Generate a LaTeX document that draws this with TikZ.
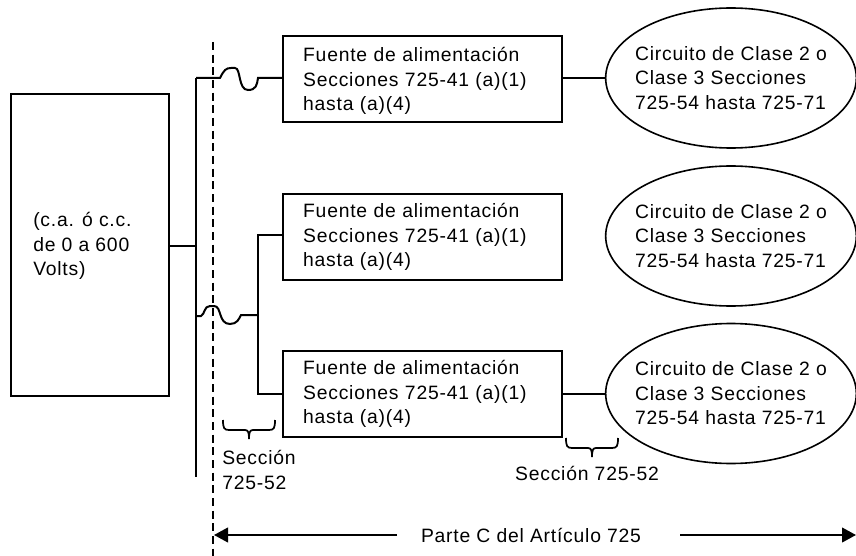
\documentclass[tikz,border=0pt]{standalone}
\usepackage{fontspec}
\setmainfont[LetterSpace=4]{Liberation Sans}
\usetikzlibrary{positioning, calc, shapes.geometric, arrows.meta}
\tikzset{
    Line/.style = {line width=1.5pt},
    Arrow/.style = {line width=1.5pt, -{Triangle[length=10.5pt, width=11pt]}},
    Node/.style = {
        draw, line width=1.7pt, minimum width=209pt, minimum height=64.5pt,
        inner sep=0pt, text width=179pt, align=left,
        font=\fontsize{14.5}{18.4}\selectfont
    },
    Oval/.style = {
        ellipse, draw, line width=1.2pt, minimum width=188pt, minimum height=105pt,
        inner xsep=-9pt, inner ysep=0pt, align=left, font=\fontsize{14.5}{18.4}\selectfont
    },
    Label/.style = {inner sep=0pt, align=left, font=\fontsize{14.5}{18.4}\selectfont},
    bracket/.pic = {
        \draw[line width=1.3pt] (-26,0) .. controls (-26,8) and (-25,10) .. (-20,10) -- (-4,10)
            .. controls (-1,10) and (0,12) .. (0,19) .. controls (0,12) and (1,10) .. (4,10)
            -- (20,10) .. controls (25,10) and (26,8) .. (26,0);
    }
}
\begin{document}
\begin{tikzpicture}[x=0.75pt, y=-0.75pt]
    \useasboundingbox (0,0) rectangle (856,556);
    \clip (0,0) rectangle (856,556);

    % source
    \node[Node, minimum width=118.5pt, minimum height=226.5pt, text width=89pt] (src) at (90,245) {};
    \node[Label, anchor=west] (srcT) at (33,246) {(c.a. ó c.c.\\de 0 a 600\\Volts)};

    % power supplies
    \node[Node] (fa1) at (422.5,79) {\rule{0pt}{14pt}Fuente de alimentación\\Secciones 725-41 (a)(1)\\hasta (a)(4)};
    \node[Node, below=52.5pt of fa1] (fa2) {Fuente de alimentación\\Secciones 725-41 (a)(1)\\hasta (a)(4)};
    \node[Node, below=51.5pt of fa2] (fa3) {Fuente de alimentación\\Secciones 725-41 (a)(1)\\hasta (a)(4)};

    % circuits
    \node[Oval] (c1) at (731,78) {Circuito de Clase 2 o\\Clase 3 Secciones\\725-54 hasta 725-71};
    \node[Oval] (c2) at (731,236) {Circuito de Clase 2 o\\Clase 3 Secciones\\725-54 hasta 725-71};
    \node[Oval] (c3) at (731,393.5) {Circuito de Clase 2 o\\Clase 3 Secciones\\725-54 hasta 725-71};

    % bus and dashed limit
    \coordinate (busT) at (196,78);
    \coordinate (busB) at (196,477);
    \coordinate (limT) at (213,42);
    \coordinate (limB) at (213,556);
    \draw[Line] (busT) -- (busB);
    \draw[line width=1.1pt, dash pattern=on 6pt off 3.5pt] (limT) -- (limB);
    \draw[Line] (src.east |- 0,245.5) -- (196,245.5);

    % top feed
    \draw[Line] (busT) -- (220,78) .. controls (224,70) and (226,68) .. (231,68) -- (235,68)
        .. controls (241,68) and (238,90) .. (248,90)
        .. controls (256,90) and (257,85) .. (258,78) -- (fa1.west |- 0,78);
    \draw[Line] (fa1.east |- 0,78) -- (c1.west |- 0,78);

    % lower feed
    \coordinate (brT) at (258,235);
    \coordinate (brB) at (258,394);
    \draw[Line] (196,316) -- (201,316) .. controls (205,314) and (204,306) .. (210,306) -- (214,306)
        .. controls (222,306) and (218,324) .. (230,324)
        .. controls (237,324) and (239,319) .. (241,315) -- (258,315);
    \draw[Line] (fa2.west |- brT) -- (brT) -- (brB) -- (fa3.west |- brB);
    \draw[Line] (fa3.east |- brB) -- (c3.west |- brB);

    % braces
    \pic at (249,420) {bracket};
    \pic at (592,438) {bracket};
    \node[Label, anchor=west] (s1) at (222,470) {Sección\\725-52};
    \node[Label] (s2) at (587,473) {Sección 725-52};

    % Parte C
    \node[Label] (pc) at (531,535) {Parte C del Artículo 725};
    \coordinate (pcL) at (214,535);
    \coordinate (pcLt) at (397,535);
    \coordinate (pcRt) at (680,535);
    \coordinate (pcR) at (856,535);
    \draw[Arrow] (pcLt) -- (pcL);
    \draw[Arrow] (pcRt) -- (pcR);
\end{tikzpicture}
\end{document}
